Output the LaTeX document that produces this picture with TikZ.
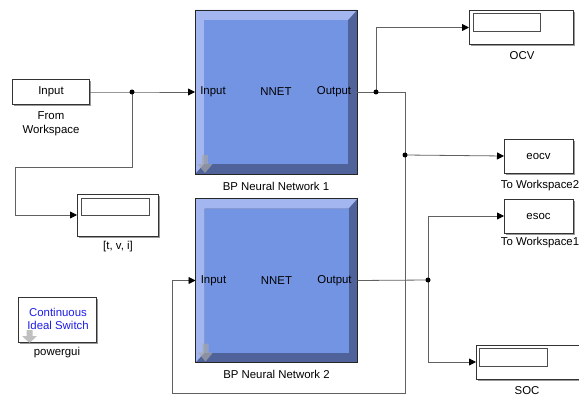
\documentclass[tikz,border=0pt]{standalone}
\usepackage{fontspec}
\setmainfont{Liberation Sans}
\usetikzlibrary{calc,arrows.meta,shadows}
\definecolor{nnface}{RGB}{115,148,227}
\definecolor{nnlight}{RGB}{163,182,240}
\definecolor{nndark}{RGB}{80,98,154}
\definecolor{sigblue}{RGB}{30,30,230}
\tikzset{
  blk/.style={draw=black!80, fill=white, line width=0.8pt, inner sep=0pt, outer sep=0pt,
    drop shadow={shadow xshift=1.5pt, shadow yshift=-1.5pt, fill=black!40, opacity=1}},
  nnbox/.style={inner sep=0pt, outer sep=0pt, minimum width=162pt, minimum height=164pt},
  wire/.style={draw=black!62, line width=0.8pt},
  arr/.style={wire, -{Triangle[length=7pt,width=7pt,fill=black,color=black]}},
  lbl/.style={font=\fontsize{11.4}{13.5}\selectfont, inner sep=0pt},
  dot/.style={circle, fill=black, inner sep=0pt, minimum size=5pt},
  icon/.style={fill=black!35, opacity=0.7},
}
\newcommand\NNblk[3]{%
  \node[nnbox] (#1) at #2 {};
  \fill[nndark] (#1.north west) rectangle (#1.south east);
  \fill[nnlight] (#1.north west) -- (#1.north east) -- ($(#1.north east)+(-9,10)$)
     -- ($(#1.north west)+(9,10)$) -- ($(#1.south west)+(9,-10)$) -- (#1.south west) -- cycle;
  \fill[nnface] ($(#1.north west)+(9,10)$) rectangle ($(#1.south east)+(-9,-10)$);
  \draw[black!85, line width=0.9pt] (#1.north west) rectangle (#1.south east);
  \node[lbl] at ($(#1.west)+(18,0)$) {Input};
  \node[lbl] at (#1.center) {NNET};
  \node[lbl] at ($(#1.east)+(-23,0)$) {Output};
  \fill[icon] ($(#1.south west)+(7,-19)$) -- ($(#1.south west)+(13,-19)$) -- ($(#1.south west)+(13,-10)$)
     -- ($(#1.south west)+(17.5,-10)$) -- ($(#1.south west)+(10,-1)$) -- ($(#1.south west)+(2.5,-10)$)
     -- ($(#1.south west)+(7,-10)$) -- cycle;
  \node[lbl] at ($(#1.south)+(0,12)$) {#3};
}
\begin{document}
\begin{tikzpicture}[x=1pt,y=-1pt]
\useasboundingbox (0,0) rectangle (579,396);

% From Workspace
\node[blk, minimum width=77pt, minimum height=25pt] (fw) at (51,92) {};
\node[lbl] at (fw.center) {Input};
\node[lbl, align=center] at (51,124) {From\\Workspace};

% Neural networks
\NNblk{nn1}{(276,92)}{BP Neural Network 1}
\NNblk{nn2}{(276.5,280.5)}{BP Neural Network 2}

% Scope [t,v,i]
\node[blk, minimum width=81pt, minimum height=42pt] (tvi) at (117.5,215) {};
\draw[black!70, line width=0.7pt] ($(tvi.north west)+(4,4)$) rectangle ($(tvi.north west)+(72,21)$);
\node[lbl] at (118,247) {[t, v, i]};

% Scope OCV
\node[blk, minimum width=104pt, minimum height=34pt] (ocv) at (521,27.5) {};
\draw[black!70, line width=0.7pt] ($(ocv.north west)+(4,3)$) rectangle ($(ocv.north west)+(71,21)$);
\node[lbl] at (522,56) {OCV};

% To Workspace2
\node[blk, minimum width=69pt, minimum height=34pt] (eocv) at (538.5,156) {};
\node[lbl] at (eocv.center) {eocv};
\node[lbl] at (540,186) {To Workspace2};

% To Workspace1
\node[blk, minimum width=69pt, minimum height=34pt] (esoc) at (538.5,216) {};
\node[lbl] at (esoc.center) {esoc};
\node[lbl] at (540,243) {To Workspace1};

% Scope SOC
\node[blk, minimum width=104pt, minimum height=34pt] (soc) at (528,362) {};
\draw[black!70, line width=0.7pt] ($(soc.north west)+(3,3)$) rectangle ($(soc.north west)+(71,21)$);
\node[lbl] at (527,391) {SOC};

% powergui
\node[blk, minimum width=78pt, minimum height=45pt] (pg) at (57,319.5) {};
\node[lbl, text=sigblue, align=center] at (58,319) {Continuous\\Ideal Switch};
\fill[icon] (26.5,330) -- (32.5,330) -- (32.5,336) -- (37,336) -- (29.5,343) -- (22,336) -- (26.5,336) -- cycle;
\node[lbl] at (57,353) {powergui};

% junctions
\coordinate (j1) at (132,92);
\coordinate (j2) at (376,92);
\coordinate (j3) at (405,155);
\coordinate (j4) at (428,280);

% wires
\draw[arr] (fw.east) -- (j1) -- (nn1.west);
\draw[arr] (j1) |- (15,167) |- (tvi.west);
\draw[wire] (nn1.east) -- (j2);
\draw[arr] (j2) |- (ocv.west);
\draw[wire] (j2) -| (j3);
\draw[arr] (j3) -- (eocv.west);
\draw[arr] (j3) |- (172,393) |- (nn2.west);
\draw[wire] (nn2.east) -- (j4);
\draw[arr] (j4) |- (esoc.west);
\draw[arr] (j4) |- (soc.west);

\node[dot] at (j1) {};
\node[dot] at (j2) {};
\node[dot] at (j3) {};
\node[dot] at (j4) {};
\end{tikzpicture}
\end{document}
